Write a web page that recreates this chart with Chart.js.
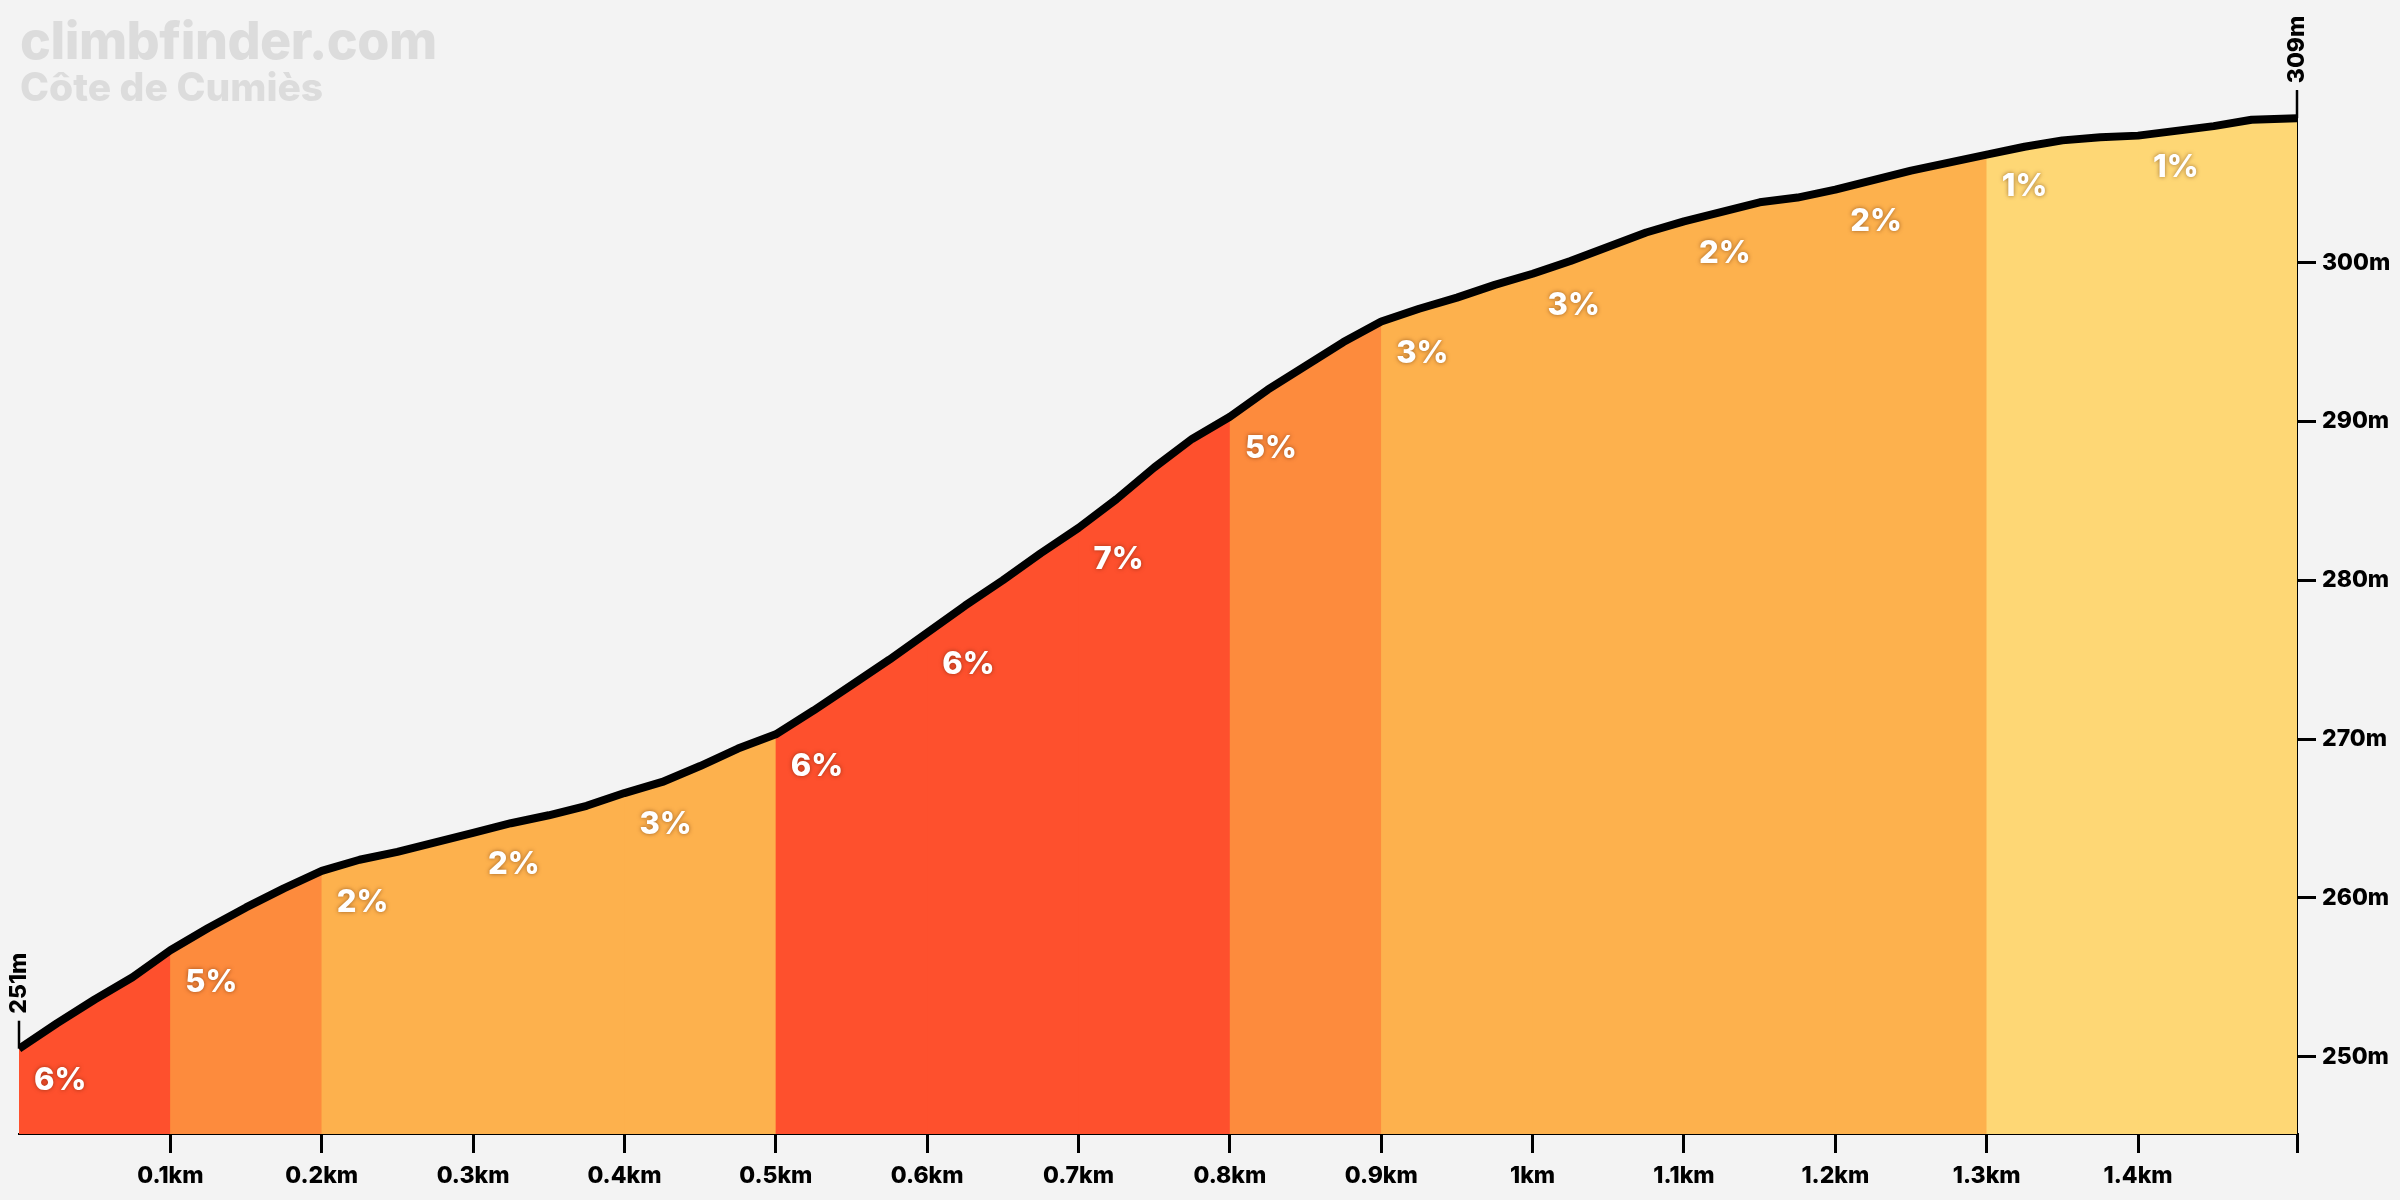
<!DOCTYPE html>
<html>
<head>
<meta charset="utf-8">
<script src="https://cdn.jsdelivr.net/npm/chart.js@4"></script>
<style>
  body{margin:0;background:#f3f3f3;}
  #wrap{position:relative;width:2400px;height:1200px;}
  .wm{position:absolute;left:20px;font-family:Inter,"Noto Sans",sans-serif;font-weight:800;color:#dcdcdc;white-space:nowrap;}
  #wm1{top:9px;font-size:52px;letter-spacing:-0.5px;}
  #wm2{top:63px;font-size:39px;}
</style>
</head>
<body>
<div id="wrap">
  <canvas id="profile" width="2400" height="1200"></canvas>
  <div class="wm" id="wm1">climbfinder.com</div>
  <div class="wm" id="wm2">Côte de Cumiès</div>
</div>
<script>
// distance (km) and elevation (m)
const distKm = [0,0.025,0.05,0.075,0.1,0.125,0.15,0.175,0.2,0.225,0.25,0.275,0.3,0.325,0.35,0.375,
  0.4,0.425,0.45,0.475,0.5,0.525,0.55,0.575,0.6,0.625,0.65,0.675,0.7,0.725,0.75,0.775,
  0.8,0.825,0.85,0.875,0.9,0.925,0.95,0.975,1.0,1.025,1.05,1.075,1.1,1.125,1.15,1.175,
  1.2,1.225,1.25,1.275,1.3,1.325,1.35,1.375,1.4,1.425,1.45,1.475,1.505];
const elevM = [250.5,252.1,253.6,255.0,256.7,258.1,259.4,260.6,261.7,262.4,262.9,263.5,264.1,264.7,265.2,265.8,
  266.6,267.3,268.3,269.4,270.3,271.8,273.4,275.0,276.7,278.4,280.0,281.7,283.3,285.1,287.1,288.9,
  290.3,292.0,293.5,295.0,296.3,297.1,297.8,298.6,299.3,300.1,301.0,301.9,302.6,303.2,303.8,304.1,
  304.6,305.2,305.8,306.3,306.8,307.3,307.7,307.9,308.0,308.3,308.6,309.0,309.1];

// 100 m sections and their gradient label
const segStart = [0,0.1,0.2,0.3,0.4,0.5,0.6,0.7,0.8,0.9,1.0,1.1,1.2,1.3,1.4];
const segEnd   = [0.1,0.2,0.3,0.4,0.5,0.6,0.7,0.8,0.9,1.0,1.1,1.2,1.3,1.4,1.505];
const segGrade = [6,5,2,2,3,6,6,7,5,3,3,2,2,1,1];

const xTicks = [0.1,0.2,0.3,0.4,0.5,0.6,0.7,0.8,0.9,1.0,1.1,1.2,1.3,1.4];
const yTicks = [250,260,270,280,290,300];

const FONT = 'Inter, "Noto Sans", sans-serif';

function gradeColor(g){
  if(g>=6) return '#fe502d';
  if(g>=4) return '#fd8b3d';
  if(g>=2) return '#fdb14d';
  return '#fed775';
}

const pts = distKm.map((d,i)=>({x:d,y:elevM[i]}));
const eps = 1e-6;
const idxOf = v => distKm.findIndex(d=>Math.abs(d-v)<eps);

// each section also takes the point before it, hidden under the previous
// section, so no seam shows between the colours
const fillSets = segStart.map((s,i)=>({
  data: pts.slice(Math.max(0, idxOf(s)-1), idxOf(segEnd[i])+1),
  fill: 'start',
  backgroundColor: gradeColor(segGrade[i]),
  borderWidth: 0,
  pointRadius: 0,
  tension: 0
}));

const lineSet = {
  data: pts, fill:false, borderColor:'#000', borderWidth:8,
  borderJoinStyle:'round', borderCapStyle:'butt', pointRadius:0, tension:0
};

const labelPlugin = {
  id:'labels',
  afterDatasetsDraw(chart){
    const {ctx, scales:{x,y}} = chart;
    ctx.save();
    ctx.font = '800 31px '+FONT;
    ctx.fillStyle = '#fff';
    ctx.textAlign = 'left';
    ctx.textBaseline = 'middle';
    ctx.shadowColor = 'rgba(80,30,0,0.55)';
    ctx.shadowBlur = 4;
    segStart.forEach((s,i)=>{
      const px = x.getPixelForValue(s)+15;
      const py = y.getPixelForValue(elevM[idxOf(s)])+32;
      ctx.fillText(segGrade[i]+'%', px, py);
    });
    ctx.restore();
  },
  afterDraw(chart){
    const {ctx, scales:{x,y}} = chart;
    const ends = [0, distKm.length-1];
    ctx.save();
    ctx.strokeStyle = '#000';
    ctx.fillStyle = '#000';
    ctx.lineWidth = 2.5;
    ctx.font = '800 23px '+FONT;
    ends.forEach(i=>{
      const px = x.getPixelForValue(distKm[i]);
      const py = y.getPixelForValue(elevM[i]);
      ctx.beginPath(); ctx.moveTo(px, py); ctx.lineTo(px, py-28); ctx.stroke();
      ctx.save();
      ctx.translate(px, py-35);
      ctx.rotate(-Math.PI/2);
      ctx.textAlign='left'; ctx.textBaseline='middle';
      ctx.fillText(Math.round(elevM[i])+'m', 0, 0);
      ctx.restore();
    });
    ctx.restore();
  }
};

new Chart(document.getElementById('profile'), {
  type:'line',
  // line first: Chart.js paints lower indexes on top
  data:{datasets:[lineSet, ...fillSets]},
  options:{
    responsive:false, animation:false, devicePixelRatio:1,
    layout:{padding:{left:19, top:91, right:0, bottom:0}},
    plugins:{legend:{display:false}, tooltip:{enabled:false}},
    scales:{
      x:{
        type:'linear', min:0, max:1.505,
        afterBuildTicks:s=>{ s.ticks = [...xTicks, 1.505].map(v=>({value:v})); },
        afterFit:s=>{ s.height = 66; },
        grid:{drawOnChartArea:false, color:'#000', lineWidth:3, tickLength:19},
        border:{display:true, color:'#000', width:2},
        ticks:{
          color:'#000', font:{family:FONT, size:23, weight:'800'}, padding:9, maxRotation:0, autoSkip:false,
          callback:v=> v>1.45 ? '' : (Math.round(v*10)/10)+'km'
        }
      },
      y:{
        type:'linear', position:'right', min:245.13, max:310.81,
        afterBuildTicks:s=>{ s.ticks = yTicks.map(v=>({value:v})); },
        afterFit:s=>{ s.width = 103; },
        grid:{drawOnChartArea:false, color:'#000', lineWidth:3, tickLength:19},
        border:{display:true, color:'#000', width:2},
        ticks:{color:'#000', font:{family:FONT, size:23, weight:'800'}, padding:6, callback:v=>v+'m'}
      }
    }
  },
  plugins:[labelPlugin]
});
</script>
</body>
</html>
